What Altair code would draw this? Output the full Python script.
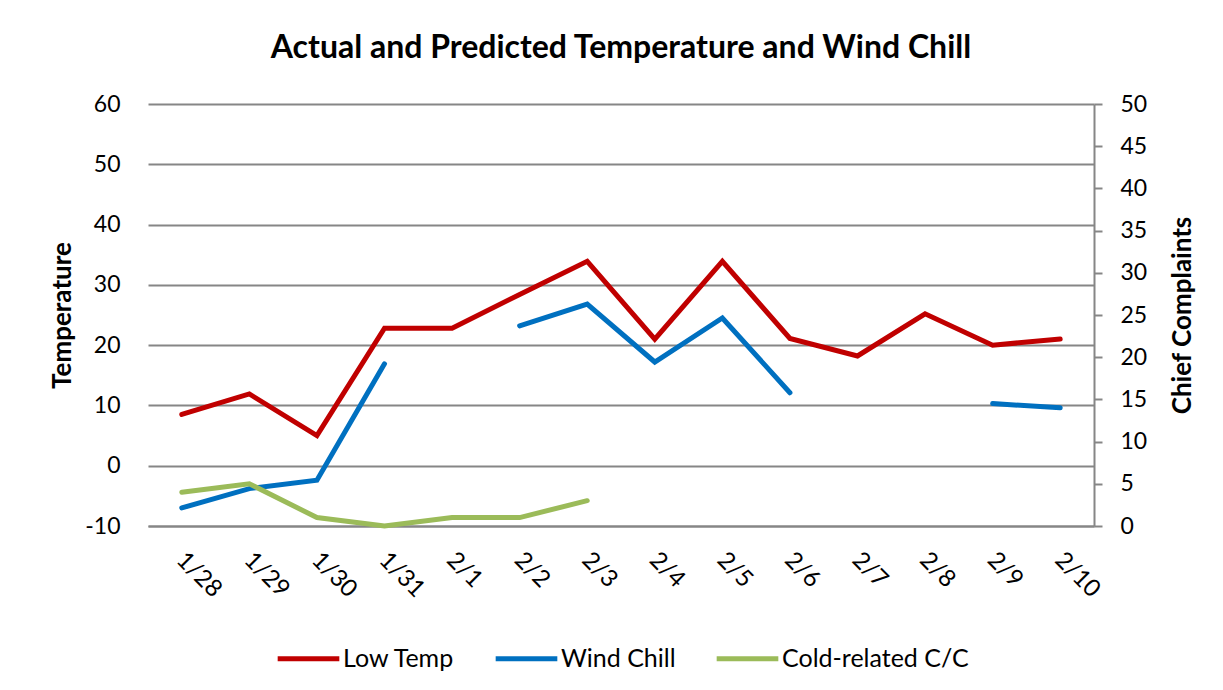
import altair as alt
import pandas as pd

dates = ["1/28", "1/29", "1/30", "1/31", "2/1", "2/2", "2/3", "2/4", "2/5", "2/6", "2/7", "2/8", "2/9", "2/10"]
low_temp = [8.5, 11.9, 5.0, 22.8, 22.8, 28.4, 33.9, 21.0, 33.9, 21.1, 18.2, 25.2, 20.0, 21.0]
wind_chill = [-7.0, -3.8, -2.4, 16.9, None, 23.2, 26.8, 17.2, 24.5, 12.1, None, None, 10.3, 9.6]
cold_cc = [4, 5, 1, 0, 1, 1, 3, None, None, None, None, None, None, None]

series_names = ["Low Temp", "Wind Chill", "Cold-related C/C"]
series_colors = ["#C00000", "#0070C0", "#9BBB59"]


def long_rows(name, values):
    rows = []
    seg = 0
    prev_none = False
    for d, v in zip(dates, values):
        if v is None:
            prev_none = True
            continue
        if prev_none and rows:
            seg += 1
        prev_none = False
        rows.append({"date": d, "value": v, "series": name, "seg": f"{name}-{seg}"})
    return rows


temp_df = pd.DataFrame(long_rows("Low Temp", low_temp) + long_rows("Wind Chill", wind_chill))
cc_df = pd.DataFrame(long_rows("Cold-related C/C", cold_cc))

FONT = "Lato"
GRID = "#868686"

color = alt.Color(
    "series:N",
    scale=alt.Scale(domain=series_names, range=series_colors),
    legend=alt.Legend(
        title=None,
        orient="none",
        legendX=127,
        legendY=521,
        direction="horizontal",
        columns=3,
        symbolType="stroke",
        symbolSize=3800,
        symbolStrokeWidth=5,
        labelFont=FONT,
        labelFontSize=25,
        labelColor="#000000",
        labelOffset=1,
        labelLimit=0,
        columnPadding=30,
    ),
)

x = alt.X(
    "date:O",
    sort=dates,
    title=None,
    axis=alt.Axis(
        labelAngle=45,
        labelAlign="left",
        labelBaseline="middle",
        labelFontSize=24,
        labelPadding=30,
        labelOffset=-2,
        ticks=False,
        domainColor=GRID,
        domainWidth=2,
        grid=False,
    ),
)

left = alt.Chart(temp_df).mark_line(strokeWidth=5, strokeCap="round").encode(
    x=x,
    y=alt.Y(
        "value:Q",
        scale=alt.Scale(domain=[-10, 60], nice=False, zero=False),
        axis=alt.Axis(
            title="Temperature",
            orient="left",
            values=[-10, 0, 10, 20, 30, 40, 50, 60],
            labelExpr="datum.value",
            domain=False,
            ticks=False,
            labelPadding=28,
            grid=True,
            gridColor=GRID,
            gridWidth=2,
            titleX=-86,
            titleY=211,
            titleAngle=270,
            titleAlign="center",
            titleBaseline="middle",
        ),
    ),
    color=color,
    detail="seg:N",
)

right = alt.Chart(cc_df).mark_line(strokeWidth=5, strokeCap="round").encode(
    x=x,
    y=alt.Y(
        "value:Q",
        scale=alt.Scale(domain=[0, 50], nice=False),
        axis=alt.Axis(
            title="Chief Complaints",
            orient="right",
            values=list(range(0, 55, 5)),
            labelExpr="datum.value",
            domainColor=GRID,
            domainWidth=2,
            tickColor=GRID,
            tickWidth=2,
            tickSize=8,
            labelPadding=18,
            grid=False,
            titleX=88,
            titleY=211,
            titleAngle=270,
            titleAlign="center",
            titleBaseline="middle",
        ),
    ),
    color=color,
    detail="seg:N",
)

chart = (
    alt.layer(left, right)
    .resolve_scale(y="independent")
    .properties(
        width=946,
        height=422,
        background="#FFFFFF",
        padding={"left": 140, "top": 96, "right": 120, "bottom": 150},
        autosize=alt.AutoSizeParams(type="none"),
        title=alt.TitleParams(
            "Actual and Predicted Temperature and Wind Chill",
            font=FONT,
            fontSize=32,
            fontWeight="bold",
            color="#000000",
            anchor="middle",
            offset=28,
        ),
    )
    .configure_view(stroke=None)
    .configure_axis(
        labelFont=FONT,
        labelFontSize=23,
        labelColor="#000000",
        titleFont=FONT,
        titleFontSize=26,
        titleFontWeight="bold",
        titleColor="#000000",
    )
)

chart.save("out.html", embed_options={"renderer": "svg", "actions": False})
